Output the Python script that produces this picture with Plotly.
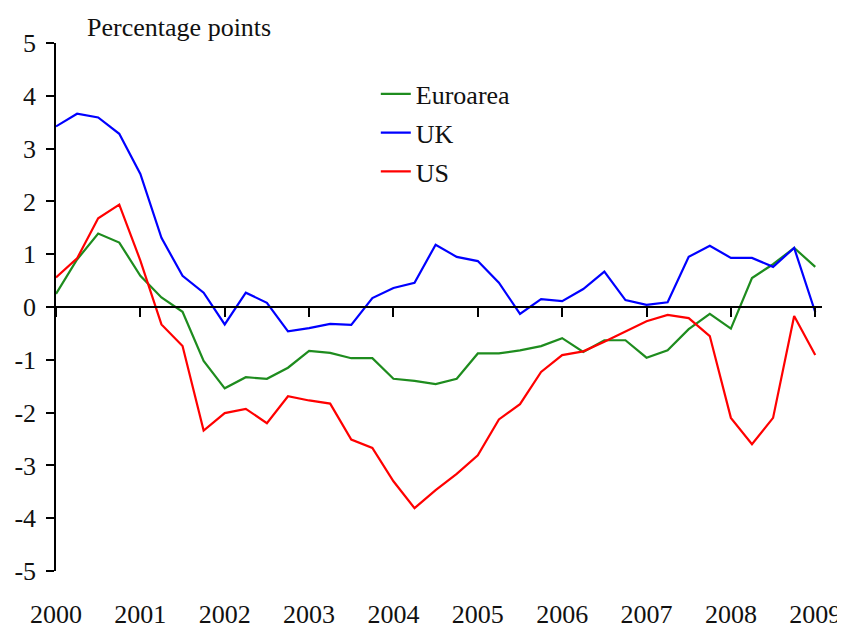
import plotly.graph_objects as go

quarters = [f"{2000 + q // 4}Q{q % 4 + 1}" for q in range(37)]
xpos = [int(s[:4]) + (int(s[-1]) - 1) / 4 for s in quarters]

euro = [0.25, 0.90, 1.39, 1.22, 0.59, 0.18, -0.09, -1.02, -1.54, -1.33, -1.36, -1.15,
        -0.83, -0.87, -0.97, -0.97, -1.36, -1.40, -1.46, -1.36, -0.88, -0.88, -0.82, -0.74,
        -0.59, -0.85, -0.63, -0.63, -0.96, -0.82, -0.42, -0.13, -0.41, 0.55, 0.81, 1.12, 0.76]
uk = [3.42, 3.66, 3.59, 3.28, 2.52, 1.31, 0.59, 0.27, -0.33, 0.27, 0.08, -0.46,
      -0.40, -0.32, -0.34, 0.17, 0.36, 0.46, 1.18, 0.95, 0.87, 0.46, -0.13, 0.15,
      0.11, 0.34, 0.67, 0.13, 0.04, 0.09, 0.95, 1.16, 0.93, 0.93, 0.76, 1.12, -0.10]
us = [0.56, 0.92, 1.68, 1.94, 0.88, -0.33, -0.74, -2.34, -2.01, -1.93, -2.20, -1.69,
      -1.77, -1.83, -2.51, -2.67, -3.30, -3.81, -3.47, -3.16, -2.81, -2.13, -1.84, -1.23,
      -0.91, -0.84, -0.66, -0.46, -0.27, -0.15, -0.21, -0.55, -2.10, -2.60, -2.10, -0.17, -0.91]

year_ticks = list(range(2000, 2010))
year_labels = [str(y) for y in year_ticks]
y_ticks = list(range(-5, 6))
y_labels = [str(v) for v in y_ticks]  # plain hyphen minus as in the reference

FONT = "Liberation Serif"

fig = go.Figure()
for name, vals, col in [("Euroarea", euro, "#1E8C1E"), ("UK", uk, "#0000FF"), ("US", us, "#FF0000")]:
    fig.add_trace(go.Scatter(x=xpos, y=vals, name=name, mode="lines", legendgroup=name,
                             line=dict(color=col, width=2.2)))

fig.update_layout(
    width=845, height=628,
    margin=dict(l=48, r=31, t=35, b=65, autoexpand=False),
    plot_bgcolor="white", paper_bgcolor="white",
    font=dict(family=FONT, size=26, color="#111111"),
    title=dict(text="Percentage points", x=0.0406, xref="paper", xanchor="left",
               y=1 - 19 / 628, yref="container", yanchor="middle",
               font=dict(family=FONT, size=26, color="#111111")),
    legend=dict(x=0.4175, y=0.948, xanchor="left", yanchor="top", bgcolor="rgba(0,0,0,0)",
                tracegroupgap=2, font=dict(family=FONT, size=26)),
    xaxis=dict(range=[2000, 2009.08], tickvals=year_ticks, ticktext=year_labels,
               showgrid=False, zeroline=False, showline=True, linecolor="black", linewidth=1.5,
               ticks="outside", ticklen=9, tickwidth=1.5, tickcolor="black",
               anchor="free", position=0.5, ticklabelstandoff=275, automargin=False),
    yaxis=dict(range=[-5, 5], tickvals=y_ticks, ticktext=y_labels, showgrid=False, zeroline=False,
               showline=True, linecolor="black", linewidth=1.5,
               ticks="outside", ticklen=8, tickwidth=1.5, tickcolor="black",
               ticklabelstandoff=5, automargin=False),
    hovermode=False,
)

fig.write_html("out.html")
